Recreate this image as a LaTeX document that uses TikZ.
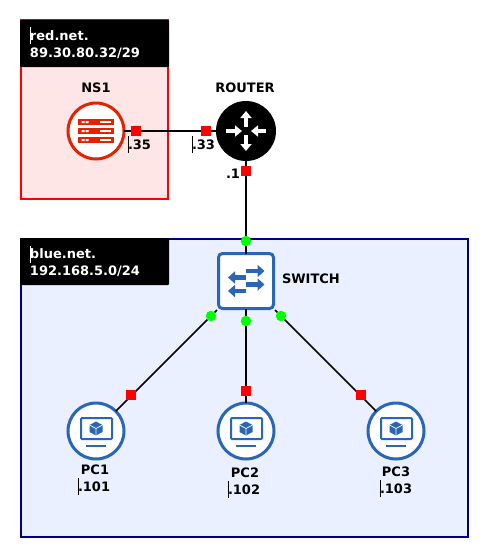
\documentclass[tikz,border=0pt]{standalone}
\usepackage{fontspec}
\setmainfont{DejaVu Sans}
\usetikzlibrary{arrows.meta}
\definecolor{redfill}{HTML}{FFE6E6}
\definecolor{bluefill}{HTML}{EAF0FF}
\definecolor{navyline}{HTML}{000080}
\definecolor{iconred}{HTML}{E52200}
\definecolor{iconblue}{HTML}{2A66B8}
\tikzset{
  every node/.style={inner sep=0pt,outer sep=0pt,font=\fontsize{13}{15}\selectfont\bfseries},
  link/.style={draw=black,line width=1.7pt},
  redport/.style={fill=red,minimum size=10pt,shape=rectangle},
  greenport/.style={fill=green,minimum size=10.5pt,shape=circle},
  devcircle/.style={circle,minimum size=56pt,line width=3pt,fill=white},
  headtext/.style={text=white,anchor=west},
  lab/.style={text=black},
  ipbar/.style={draw=black,line width=0.8pt},
  whitearrow/.style={draw=white,line width=3.6pt,-{Triangle[length=7pt,width=11pt]}},
  bluearrow/.style={draw=iconblue,line width=4.2pt,-{Triangle[length=7pt,width=12pt]}},
  pcicon/.pic={
    \draw[iconblue,line width=2pt,rounded corners=1pt] (-15,-13) rectangle (16,8);
    \draw[iconblue,line width=2pt] (-10,15) -- (10,15);
    \fill[iconblue] (0,-9.5) -- (6.5,-6) -- (6.5,1) -- (0,4.5) -- (-6.5,1) -- (-6.5,-6) -- cycle;
    \draw[white,line width=0.7pt] (-6.5,-6) -- (0,-2.5) -- (6.5,-6) (0,-2.5) -- (0,4.5);
  }
}
\begin{document}
\begin{tikzpicture}[x=1pt,y=-1pt]
\useasboundingbox (0,0) rectangle (489,558);
% network zones
\draw[red,fill=redfill,line width=1.5pt] (21,20) rectangle (168,199);
\draw[navyline,fill=bluefill,line width=1.5pt] (21,239) rectangle (468,537);
\fill[black,rounded corners=1pt] (20.2,19.8) rectangle (169,67);
\fill[black,rounded corners=1pt] (20.2,238.2) rectangle (169,285);
\node[headtext] (redname) at (30,36) {red.net.};
\node[headtext] (rednet) at (30,53) {89.30.80.32/29};
\node[headtext] (bluename) at (30,254) {blue.net.};
\node[headtext] (bluenet) at (30,271) {192.168.5.0/24};
\draw[white,line width=0.8pt] (30.5,27) -- (30.5,44);
\draw[white,line width=0.8pt] (30.5,246) -- (30.5,263);
% devices
\node[devcircle,draw=iconred] (ns1) at (96,131) {};
\node[circle,fill=black,minimum size=60pt] (router) at (246,131) {};
\node[draw=iconblue,fill=white,line width=3pt,rounded corners=4pt,minimum size=55pt] (switch) at (246,281) {};
\node[devcircle,draw=iconblue] (pc1) at (96,431) {};
\node[devcircle,draw=iconblue] (pc2) at (246,431) {};
\node[devcircle,draw=iconblue] (pc3) at (396,431) {};
% connectors
\coordinate (swsw) at (217,310);
\coordinate (swse) at (275,310);
\draw[link] (ns1) -- (router);
\draw[link] (router) -- (switch);
\draw[link] (swsw) -- (pc1);
\draw[link] (switch) -- (pc2);
\draw[link] (swse) -- (pc3);
% ports
\node[redport] (p1) at (136,131) {};
\node[redport] (p2) at (206,131) {};
\node[redport] (p3) at (246,171) {};
\node[redport] (p4) at (131,395) {};
\node[redport] (p5) at (246,391) {};
\node[redport] (p6) at (361,395) {};
\node[greenport] (g1) at (246,241) {};
\node[greenport] (g2) at (211,316) {};
\node[greenport] (g3) at (246,321) {};
\node[greenport] (g4) at (281,316) {};
% server icon
\foreach \y in {122,131,140}{
  \fill[iconred] (78,\y-3.3) rectangle (114,\y+3.3);
  \fill[white] (81.5,\y-1) rectangle (84.5,\y+1) (85.5,\y-1) rectangle (88.5,\y+1);
  \fill[white] (100,\y-1) rectangle (111,\y+1);
}
% router icon
\draw[whitearrow] (246,127) -- (246,111);
\draw[whitearrow] (246,135) -- (246,151);
\draw[whitearrow] (226,131) -- (242,131);
\draw[whitearrow] (266,131) -- (251,131);
% switch icon
\draw[bluearrow] (246,271) -- (264.5,271);
\draw[bluearrow] (246,284.5) -- (264.5,284.5);
\draw[bluearrow] (246,277.5) -- (228,277.5);
\draw[bluearrow] (246,291) -- (228,291);
% pc icons
\pic at (96,431) {pcicon};
\pic at (246,431) {pcicon};
\pic at (396,431) {pcicon};
% labels
\node[lab] (lns1) at (96,88) {NS1};
\node[lab] (lrouter) at (245,88) {ROUTER};
\node[lab,anchor=west] (lswitch) at (282,279) {SWITCH};
\node[lab] (lpc1) at (95,470) {PC1};
\node[lab] (lpc2) at (245,473) {PC2};
\node[lab] (lpc3) at (396,472) {PC3};
\node[lab,anchor=west] (ip1) at (128,145) {.35};
\node[lab,anchor=west] (ip2) at (192,145) {.33};
\node[lab,anchor=west] (ip3) at (226,174) {.1};
\node[lab,anchor=west] (ip4) at (78,487) {.101};
\node[lab,anchor=west] (ip5) at (228,490) {.102};
\node[lab,anchor=west] (ip6) at (380,489) {.103};
\foreach \x/\y in {128/136,192/136,78/478,228/481,380/480}{
  \draw[ipbar] (\x.5,\y) -- (\x.5,\y+17);
}
\end{tikzpicture}
\end{document}
